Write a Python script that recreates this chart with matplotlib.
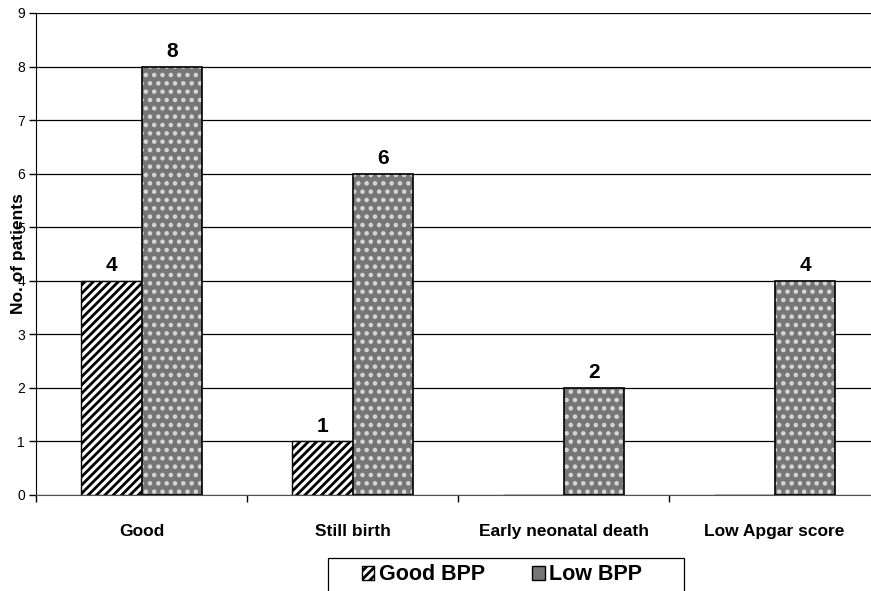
import numpy as np
import matplotlib
matplotlib.use('Agg')
import matplotlib.pyplot as plt
from matplotlib.patches import Patch, Rectangle

# ---- data ----
categories = ['Good', 'Still birth', 'Early neonatal death', 'Low Apgar score']
good_bpp = [4, 1, 0, 0]
low_bpp = [8, 6, 2, 4]
y_ticks = list(range(0, 10))

plt.rcParams['font.family'] = ['Liberation Sans', 'DejaVu Sans']
plt.rcParams['hatch.linewidth'] = 2.0

W, H = 871, 591
fig = plt.figure(figsize=(W / 100, H / 100), dpi=100)
# axes runs past the right edge of the picture, as in the reference
ax = fig.add_axes([36 / W, 1 - 495 / H, 844 / W, 482 / H])

x = np.arange(len(categories))
w = 0.289
grey = '#767676'

# Good BPP: white with black diagonal stripes
ax.bar(x - w / 2, good_bpp, w, facecolor='white', edgecolor='black',
       hatch='////', linewidth=1.0, zorder=3)

# Low BPP: dark grey with light dotted texture, black outline
ax.bar(x + w / 2, low_bpp, w, facecolor=grey, edgecolor='#d8d8d8',
       hatch='..', linewidth=0, zorder=3)
ax.bar(x + w / 2, low_bpp, w, fill=False, edgecolor='black',
       linewidth=1.2, zorder=4)

# value labels
for xi, v in zip(x - w / 2, good_bpp):
    if v > 0:
        ax.text(xi, v + 0.11, str(v), ha='center', va='bottom',
                fontsize=15, fontweight='bold')
for xi, v in zip(x + w / 2, low_bpp):
    if v > 0:
        ax.text(xi, v + 0.11, str(v), ha='center', va='bottom',
                fontsize=15, fontweight='bold')

ax.set_xlim(-0.5, len(categories) - 0.5)
ax.set_ylim(0, 9)
ax.set_yticks(y_ticks)
ax.set_yticklabels([str(t) for t in y_ticks], fontsize=10)
ax.yaxis.grid(True, color='black', linewidth=0.9, zorder=0)
ax.set_axisbelow(True)

# category labels centred, ticks on boundaries
ax.set_xticks(x)
ax.set_xticklabels(categories, fontsize=12.5, fontweight='bold')
ax.tick_params(axis='x', length=0, pad=21)
ax.set_xticks(np.arange(len(categories) + 1) - 0.5, minor=True)
ax.tick_params(axis='x', which='minor', length=5, width=1, direction='out')
ax.tick_params(axis='y', length=5, width=1, direction='out', pad=3)

for s in ['top', 'right']:
    ax.spines[s].set_visible(False)
ax.spines['left'].set_color('black')
ax.spines['bottom'].set_color('#555555')

# label sits over the tick numbers, as in the reference
ax.set_ylabel('No. of patients', fontsize=12.5, fontweight='bold')
ax.yaxis.set_label_coords(-0.012, 0.5)

# legend: frame drawn separately (wide side padding in the reference)
fig.patches.append(Rectangle((328 / W, 1 - 600 / H), 356 / W, 42 / H,
                             transform=fig.transFigure, fill=False,
                             edgecolor='black', linewidth=0.9))
handles = [
    Patch(facecolor='white', edgecolor='black', hatch='////', label='Good BPP'),
    Patch(facecolor=grey, edgecolor='black', label='Low BPP'),
]
fig.legend(handles=handles, loc='center', ncol=2,
           bbox_to_anchor=(502 / W, 1 - 575 / H), frameon=False,
           prop={'size': 15.5, 'weight': 'bold'},
           handlelength=0.6, handleheight=0.6,
           handletextpad=0.2, columnspacing=2.2, borderpad=0.2)

plt.savefig('out.png', dpi=100)
